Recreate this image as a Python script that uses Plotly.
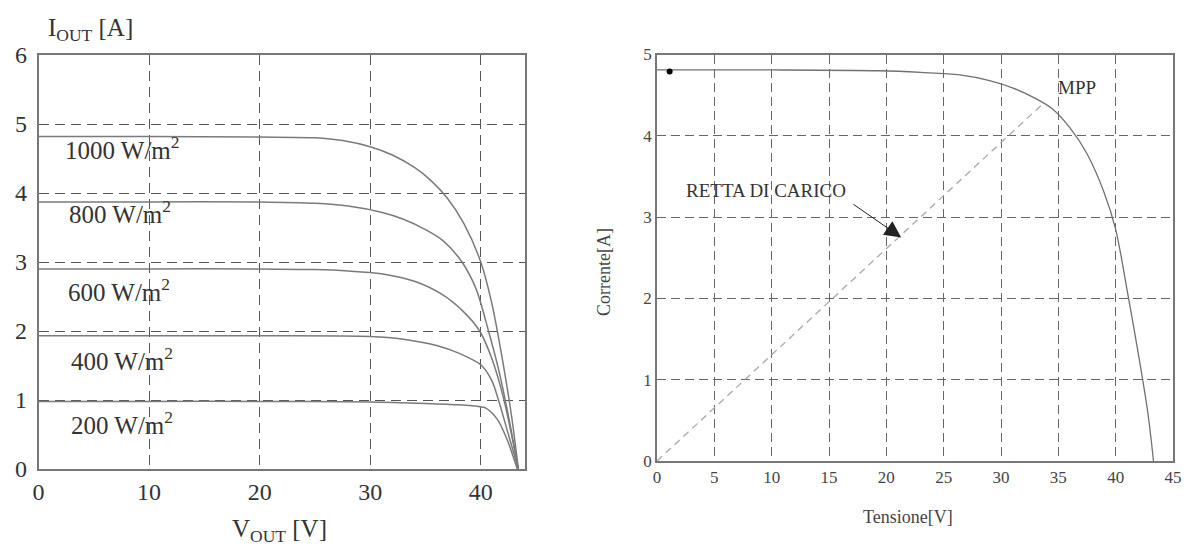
import plotly.graph_objects as go

# ---------------- data: left chart (I-V curves at several irradiances) ----------------
irr_labels = ["1000 W/m<sup>2</sup>", "800 W/m<sup>2</sup>", "600 W/m<sup>2</sup>",
              "400 W/m<sup>2</sup>", "200 W/m<sup>2</sup>"]
v_1000 = [0, 10, 20, 25, 27.5, 30, 32, 34, 35.5, 37, 38.5, 40, 41, 42, 42.8, 43.4]
i_1000 = [4.82, 4.82, 4.81, 4.80, 4.76, 4.67, 4.55, 4.37, 4.18, 3.92, 3.55, 3.0, 2.4, 1.55, 0.75, 0]
v_800 = [0, 10, 20, 25, 28, 31, 33, 35, 36.5, 38.3, 39.6, 40.7, 41.6, 42.4, 43.4]
i_800 = [3.87, 3.87, 3.87, 3.85, 3.81, 3.72, 3.62, 3.47, 3.32, 3.0, 2.6, 2.0, 1.45, 0.85, 0]
v_600 = [0, 10, 20, 25, 28, 31, 34, 36.5, 38.5, 39.9, 41, 42.1, 43.4]
i_600 = [2.90, 2.90, 2.90, 2.89, 2.87, 2.83, 2.72, 2.53, 2.27, 2.0, 1.6, 1.0, 0]
v_400 = [0, 10, 20, 30, 33, 36, 38, 40, 41, 41.6, 42.5, 43.4]
i_400 = [1.93, 1.93, 1.93, 1.92, 1.88, 1.79, 1.68, 1.51, 1.28, 1.0, 0.5, 0]
v_200 = [0, 10, 20, 30, 35, 38, 40, 40.5, 41.5, 42.4, 43.3]
i_200 = [0.98, 0.98, 0.98, 0.97, 0.95, 0.93, 0.90, 0.88, 0.72, 0.42, 0]
label_x = [2.2, 2.6, 2.5, 2.8, 2.8]
label_y = [4.65, 3.72, 2.59, 1.59, 0.67]

left_xticks = [0, 10, 20, 30, 40]
left_yticks = [0, 1, 2, 3, 4, 5, 6]

# ---------------- data: right chart (single I-V curve with load line) ----------------
v_panel = [0, 10, 19.4, 23, 26.4, 29, 31, 33, 34.5, 36, 37.5, 39, 40, 41, 42, 42.8, 43.3]
i_panel = [4.81, 4.81, 4.80, 4.78, 4.75, 4.68, 4.59, 4.46, 4.33, 4.10, 3.78, 3.30, 2.85, 2.10, 1.30, 0.60, 0]
v_load = [0, 33.7]
i_load = [0, 4.40]
v_dot = [1.1]
i_dot = [4.79]
right_xticks = [0, 5, 10, 15, 20, 25, 30, 35, 40, 45]
right_yticks = [0, 1, 2, 3, 4, 5]

W, H = 1194, 549
OFF = 8  # page body margin offset
SERIF = "Liberation Serif, Times New Roman, serif"

fig = go.Figure()

curves = [(v_1000, i_1000), (v_800, i_800), (v_600, i_600), (v_400, i_400), (v_200, i_200)]
for v, i in curves:
    fig.add_trace(go.Scatter(x=v, y=i, mode="lines", line=dict(color="#7a7a7a", width=1.5, shape="spline", smoothing=0.8),
                             xaxis="x", yaxis="y", showlegend=False, hoverinfo="skip"))

fig.add_trace(go.Scatter(x=v_load, y=i_load, mode="lines", line=dict(color="#a8a8a8", width=1.3, dash="7px,5px"),
                         xaxis="x2", yaxis="y2", showlegend=False, hoverinfo="skip"))
fig.add_trace(go.Scatter(x=v_panel, y=i_panel, mode="lines", line=dict(color="#707070", width=1.3, shape="spline", smoothing=0.9),
                         xaxis="x2", yaxis="y2", showlegend=False, hoverinfo="skip"))
fig.add_trace(go.Scatter(x=v_dot, y=i_dot, mode="markers", marker=dict(color="black", size=6),
                         xaxis="x2", yaxis="y2", showlegend=False, hoverinfo="skip"))

def px_x(p):
    return (p - OFF) / W

def px_y(p):
    return 1 - (p - OFF) / H

axis_common = dict(showline=True, mirror=True, linecolor="#777", linewidth=1.5, zeroline=False, ticks="",
                   showgrid=True, fixedrange=True, automargin=False)

fig.update_layout(
    template="none",
    width=W, height=H,
    margin=dict(l=0, r=0, t=0, b=0, pad=0),
    paper_bgcolor="white", plot_bgcolor="white",
    font=dict(family=SERIF, color="#333"),
    xaxis=dict(domain=[px_x(38.5), px_x(525)], range=[0, 44], tickvals=left_xticks,
               gridcolor="#555", griddash="10px,6px", gridwidth=1.2,
               tickfont=dict(size=24, family=SERIF, color="#333"), anchor="y", **axis_common),
    yaxis=dict(domain=[px_y(469), px_y(55)], range=[0, 6], tickvals=left_yticks,
               gridcolor="#555", griddash="10px,6px", gridwidth=1.2, ticklabelstandoff=5,
               tickfont=dict(size=24, family=SERIF, color="#333"), anchor="x", **axis_common),
    xaxis2=dict(domain=[px_x(657), px_x(1173)], range=[0, 45], tickvals=right_xticks,
                gridcolor="#666", griddash="9px,5px", gridwidth=1,
                tickfont=dict(size=17, family=SERIF, color="#444"), anchor="y2", **axis_common),
    yaxis2=dict(domain=[px_y(461), px_y(54.5)], range=[0, 5], tickvals=right_yticks,
                gridcolor="#666", griddash="9px,5px", gridwidth=1,
                tickfont=dict(size=17, family=SERIF, color="#444"), anchor="x2", **axis_common),
)

ann = []
for lab, lx, ly in zip(irr_labels, label_x, label_y):
    ann.append(dict(text=lab, x=lx, y=ly, xref="x", yref="y", xanchor="left", yanchor="middle",
                    showarrow=False, font=dict(size=25, family=SERIF, color="#333")))
ann.append(dict(text="I<sub>OUT</sub> [A]", x=px_x(46), y=px_y(30), xref="paper", yref="paper",
                xanchor="left", yanchor="middle", showarrow=False, font=dict(size=25, family=SERIF, color="#333")))
ann.append(dict(text="V<sub>OUT</sub> [V]", x=px_x(279), y=px_y(530), xref="paper", yref="paper",
                xanchor="center", yanchor="middle", showarrow=False, font=dict(size=25, family=SERIF, color="#333")))
ann.append(dict(text="Tensione[V]", x=px_x(908), y=px_y(517), xref="paper", yref="paper",
                xanchor="center", yanchor="middle", showarrow=False, font=dict(size=18, family=SERIF, color="#444")))
ann.append(dict(text="Corrente[A]", x=px_x(604), y=px_y(272), xref="paper", yref="paper", textangle=-90,
                xanchor="center", yanchor="middle", showarrow=False, font=dict(size=18, family=SERIF, color="#444")))
ann.append(dict(text="MPP", x=36.6, y=4.59, xref="x2", yref="y2", xanchor="center", yanchor="middle",
                showarrow=False, font=dict(size=19, family=SERIF, color="#333")))
ann.append(dict(text="RETTA DI CARICO", x=9.5, y=3.33, xref="x2", yref="y2", xanchor="center", yanchor="middle",
                showarrow=False, font=dict(size=19, family=SERIF, color="#333")))
ann.append(dict(text="", x=21.3, y=2.75, ax=17.0, ay=3.17, xref="x2", yref="y2", axref="x2", ayref="y2",
                showarrow=True, arrowhead=2, arrowsize=3.3, arrowwidth=1, arrowcolor="#222"))
fig.update_layout(annotations=ann)

fig.write_html("out.html")
